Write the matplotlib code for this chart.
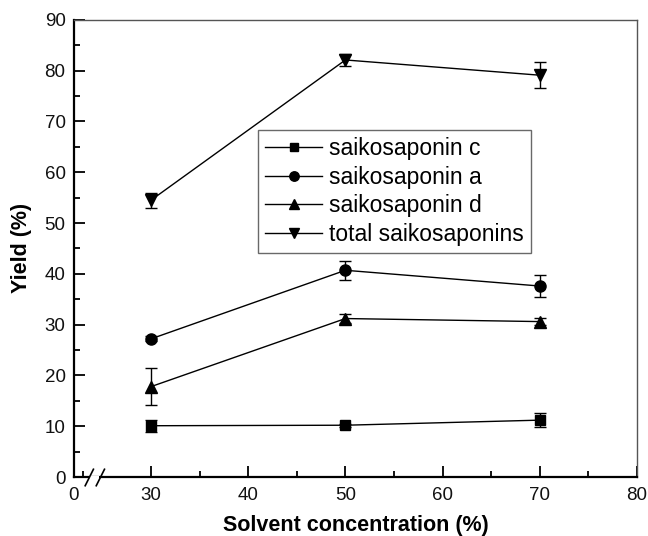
import numpy as np
import matplotlib
matplotlib.use("Agg")
import matplotlib.pyplot as plt
from matplotlib.transforms import blended_transform_factory

plt.rcParams['font.family'] = ['Liberation Sans', 'DejaVu Sans']

conc = [30, 50, 70]
sc = [10.1, 10.2, 11.2]
sc_err = [1.2, 0.3, 1.4]
sa = [27.2, 40.7, 37.6]
sa_err = [0.5, 1.9, 2.1]
sd = [17.8, 31.2, 30.6]
sd_err = [3.7, 0.8, 0.7]
tot = [54.5, 82.1, 79.1]
tot_err = [1.5, 1.1, 2.6]

series = [
    ("saikosaponin c", sc, sc_err, "s"),
    ("saikosaponin a", sa, sa_err, "o"),
    ("saikosaponin d", sd, sd_err, "^"),
    ("total saikosaponins", tot, tot_err, "v"),
]

xticks = [0, 30, 40, 50, 60, 70, 80]
yticks = [0, 10, 20, 30, 40, 50, 60, 70, 80, 90]

K = 0.2646
def fwd(x):
    x = np.asarray(x, dtype=float)
    return np.where(x < 30, 30 - (30 - x) * K, x)
def inv(y):
    y = np.asarray(y, dtype=float)
    return np.where(y < 30, 30 - (30 - y) / K, y)

fig = plt.figure(figsize=(6.48, 5.36), dpi=100)
ax = fig.add_axes([0.114, 0.110, 0.869, 0.853])
ax.set_xscale('function', functions=(fwd, inv))

handles = []
for name, vals, errs, mk in series:
    ax.errorbar(conc, vals, yerr=errs, fmt='none', ecolor='black',
                elinewidth=1.0, capsize=4, capthick=1.0, zorder=2)
    h, = ax.plot(conc, vals, color='black', lw=1.0, marker=mk,
                 markersize=8 if mk in 'o^v' else 7, markerfacecolor='black',
                 markeredgecolor='black', zorder=3, label=name)
    handles.append(h)

ax.set_xlim(0, 80)
ax.set_ylim(0, 90)
ax.set_xticks(xticks)
ax.set_xticklabels([str(t) for t in xticks])
ax.set_xticks([3.5, 35, 45, 55, 65, 75], minor=True)
ax.set_yticks(yticks)
ax.set_yticks(np.arange(5, 90, 10), minor=True)

ax.tick_params(which='both', direction='in', top=False, right=False,
               labelsize=13.5, color='black', width=1.3, labelcolor='#111111')
ax.tick_params(which='major', length=8)
ax.tick_params(axis='y', which='major', pad=6)
ax.tick_params(axis='x', which='major', pad=7)
ax.tick_params(which='minor', length=4.5)

for s in ['left', 'bottom']:
    ax.spines[s].set_linewidth(1.6)
    ax.spines[s].set_color('black')
for s in ['top', 'right']:
    ax.spines[s].set_linewidth(1.0)
    ax.spines[s].set_color('#555555')

ax.set_xlabel('Solvent concentration (%)', fontsize=15.5, fontweight='bold', labelpad=8)
ax.set_ylabel('Yield (%)', fontsize=15.5, fontweight='bold', labelpad=9)

# axis break marks
tr = blended_transform_factory(ax.transData, ax.transAxes)
ax.plot([6.4, 9.9], [-0.003, -0.003], transform=tr, color='white', lw=3,
        clip_on=False, zorder=5, solid_capstyle='butt')
for xc in [6.0, 10.3]:
    ax.plot([xc - 1.6, xc + 1.6], [-0.019, 0.017], transform=tr, color='black',
            lw=1.2, clip_on=False, zorder=6)

leg = ax.legend(handles=handles, loc='upper left', bbox_to_anchor=(0.327, 0.759),
                fontsize=16.5, frameon=True, fancybox=False, edgecolor='#444444',
                handlelength=2.5, handletextpad=0.3, labelspacing=0.25,
                borderpad=0.3, borderaxespad=0.0, markerscale=0.85)
leg.get_frame().set_linewidth(1.0)

fig.savefig('out.png', dpi=100)
